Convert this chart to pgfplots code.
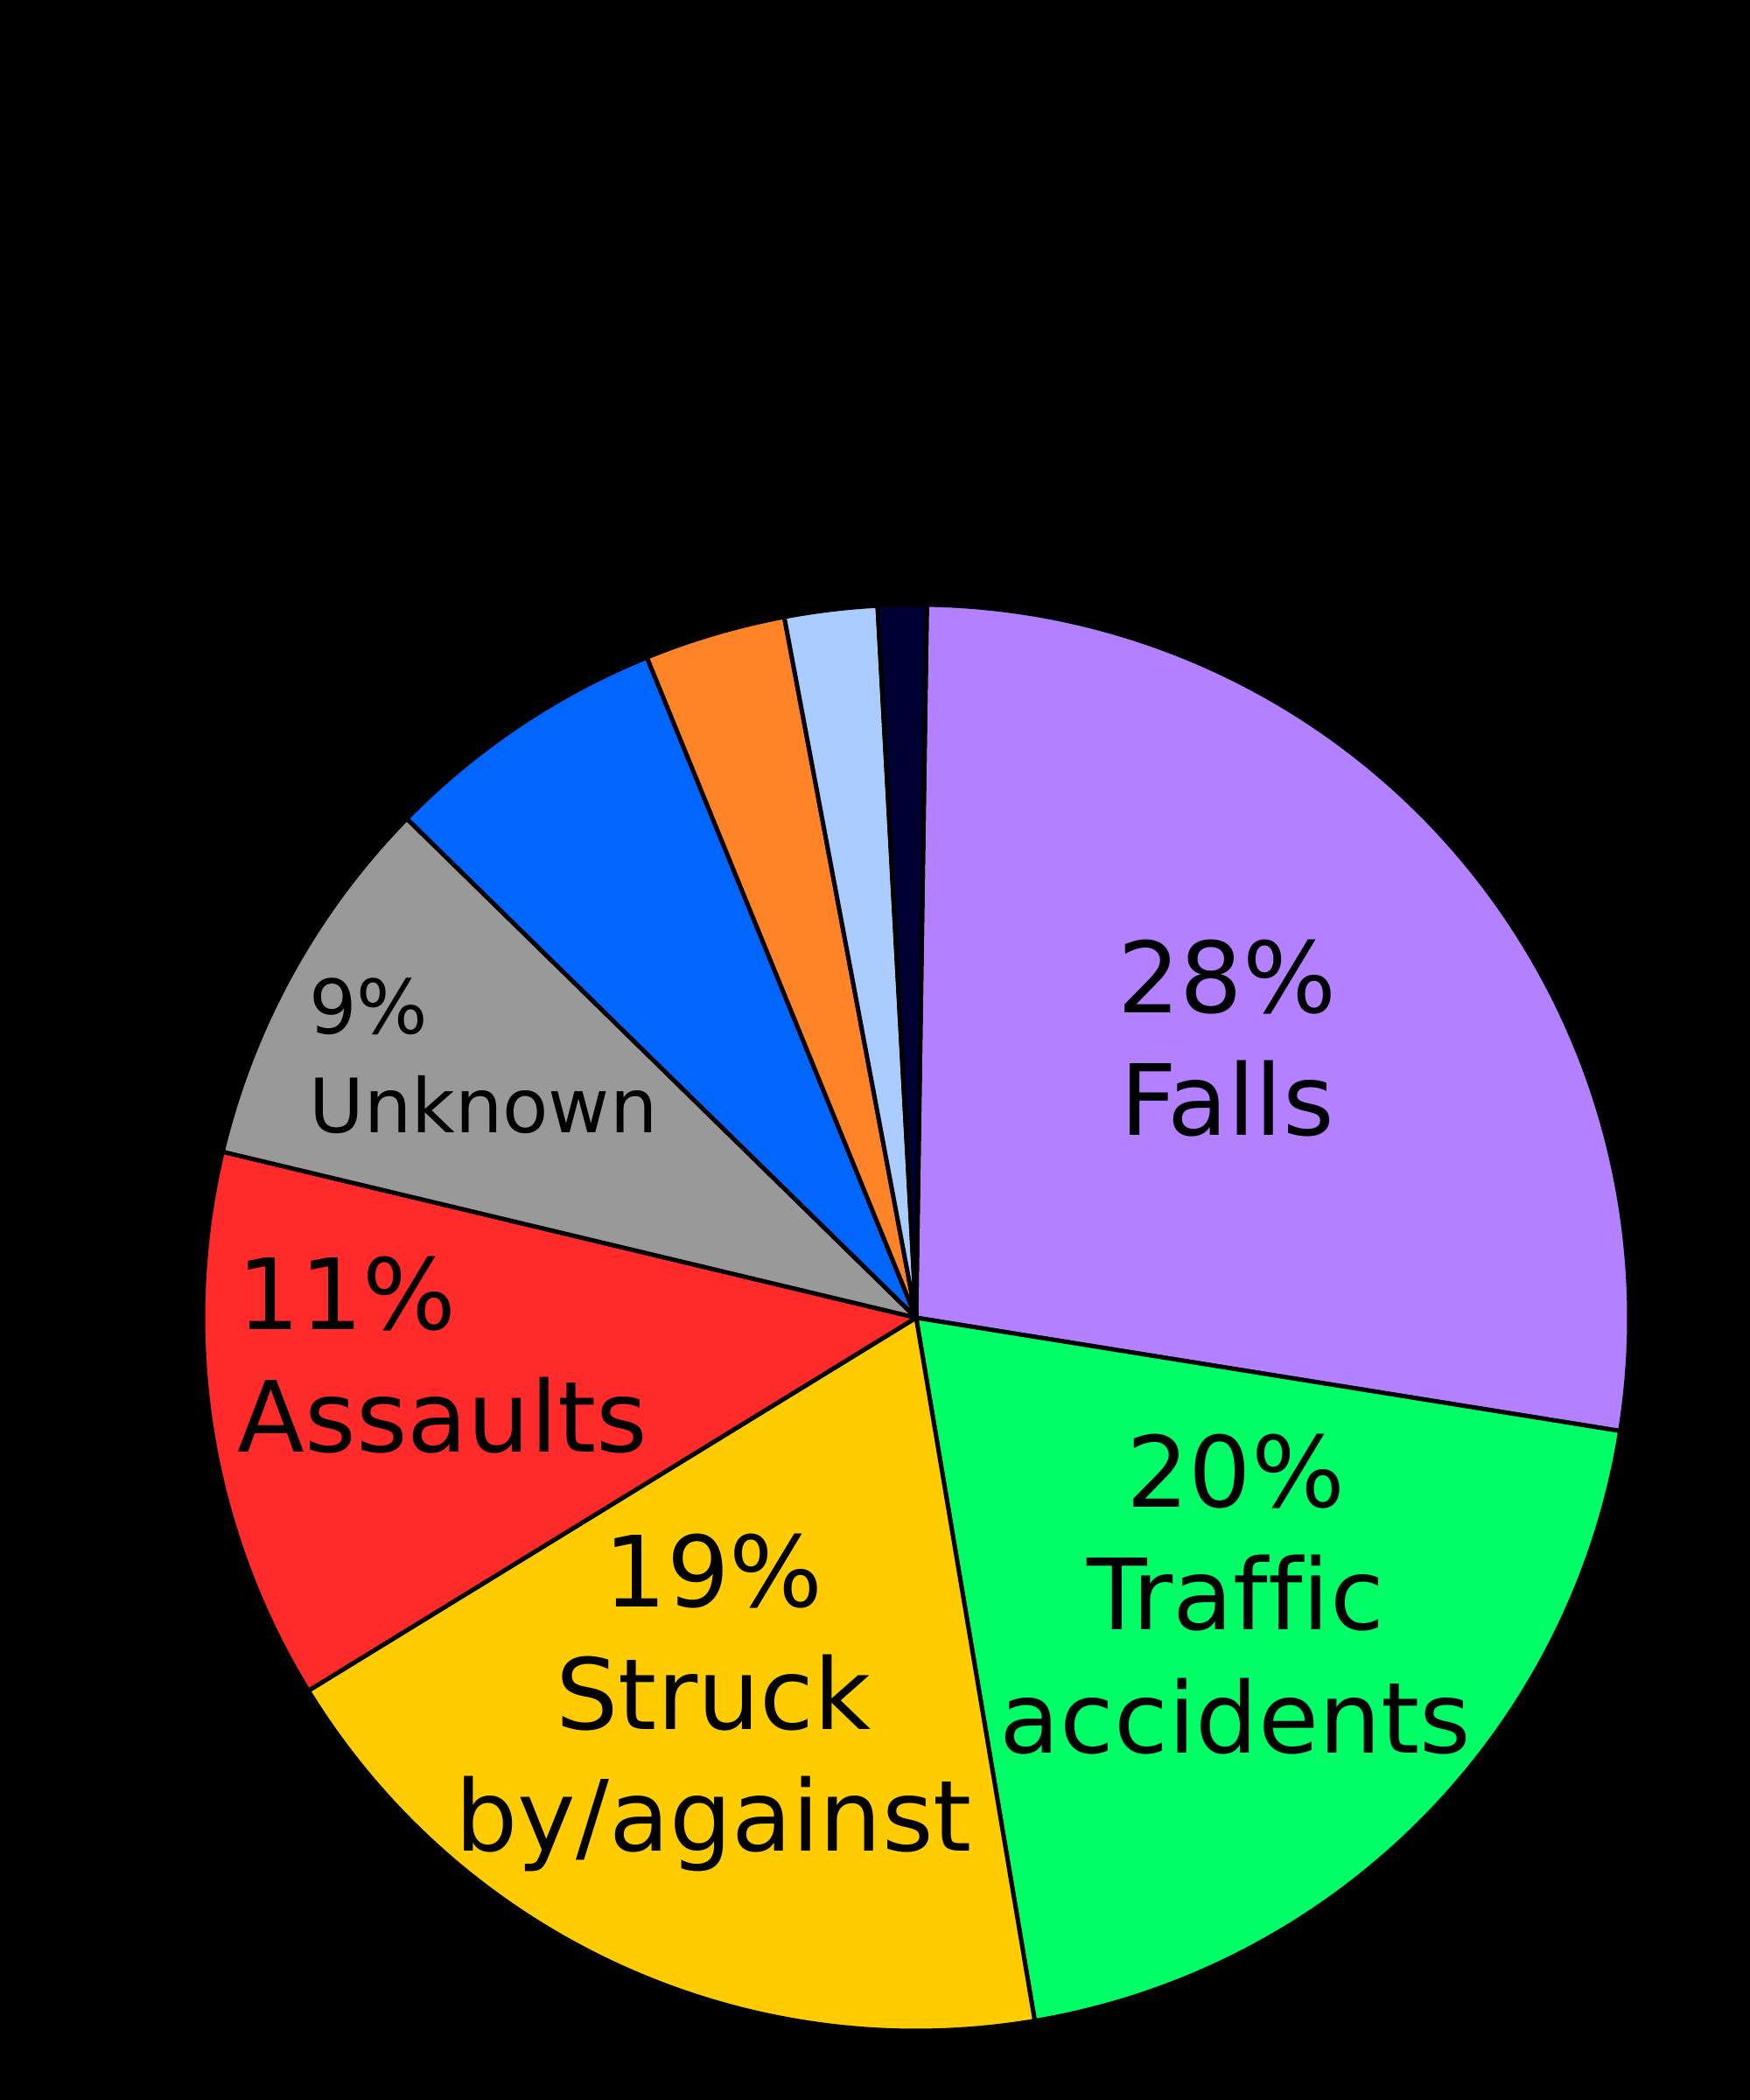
\documentclass[border=0pt]{standalone}
\usepackage{fontspec}
\setmainfont[Ligatures=NoCommon]{DejaVu Sans}
\usepackage{pgfplots}
\usepackage{pgfplotstable}
\pgfplotsset{compat=1.18}

\definecolor{pie0}{HTML}{B380FF}
\definecolor{pie1}{HTML}{00FF66}
\definecolor{pie2}{HTML}{FFCC00}
\definecolor{pie3}{HTML}{FF2A2A}
\definecolor{pie4}{HTML}{999999}
\definecolor{pie5}{HTML}{0066FF}
\definecolor{pie6}{HTML}{FF8427}
\definecolor{pie7}{HTML}{AACCFF}
\definecolor{pie8}{HTML}{000033}

% share of each slice, clockwise from the top
\pgfplotstableread{
cause pct
Falls 27.3
Traffic 19.8
Struck 18.9
Assaults 12.5
Unknown 8.6
Other 6.5
OtherB 3.2
OtherC 2.1
OtherD 1.1
}\piedata

\begin{document}
\begin{tikzpicture}
% start/end angles of the wedges
\xdef\cum{89.14}
\foreach \i in {0,...,8}{
  \pgfplotstablegetelem{\i}{pct}\of\piedata
  \pgfmathsetmacro\e{\cum-3.6*\pgfplotsretval}
  \expandafter\xdef\csname ps\i\endcsname{\cum}
  \expandafter\xdef\csname pe\i\endcsname{\e}
  \xdef\cum{\e}
}
\begin{axis}[
  hide axis,
  x=4.075cm, y=4.075cm,
  xmin=-1.2847, xmax=1.1693,
  ymin=-1.0970, ymax=1.8479,
]
\fill[black] (rel axis cs:0,0) rectangle (rel axis cs:1,1);
\pgfplotsinvokeforeach{0,...,8}{
  \edef\temp{\noexpand\filldraw[fill=pie#1, draw=black, line width=0.7pt, line join=round]
    (axis cs:0,0) -- ++(\csname ps#1\endcsname:4.075cm)
    arc[start angle=\csname ps#1\endcsname, end angle=\csname pe#1\endcsname, radius=4.075cm] -- cycle;}
  \temp
}
% labels
\tikzset{big/.style={inner sep=0pt, font=\fontsize{16}{20}\selectfont},
         small/.style={inner sep=0pt, font=\fontsize{12.2}{16}\selectfont}}
\node[big, anchor=base] at (axis cs:0.436,0.428) {28\%};
\node[big, anchor=base] at (axis cs:0.436,0.256) {Falls};
\node[big, anchor=base] at (axis cs:0.448,-0.266) {20\%};
\node[big, anchor=base] at (axis cs:0.448,-0.437) {Traffic};
\node[big, anchor=base] at (axis cs:0.448,-0.610) {accidents};
\node[big, anchor=base] at (axis cs:-0.284,-0.405) {19\%};
\node[big, anchor=base] at (axis cs:-0.284,-0.577) {Struck};
\node[big, anchor=base] at (axis cs:-0.284,-0.748) {by/against};
\node[big, anchor=base west] at (axis cs:-0.953,-0.016) {11\%};
\node[big, anchor=base west] at (axis cs:-0.953,-0.189) {Assaults};
\node[small, anchor=base west] at (axis cs:-0.853,0.398) {9\%};
\node[small, anchor=base west] at (axis cs:-0.853,0.259) {Unknown};
\end{axis}
\end{tikzpicture}
\end{document}
